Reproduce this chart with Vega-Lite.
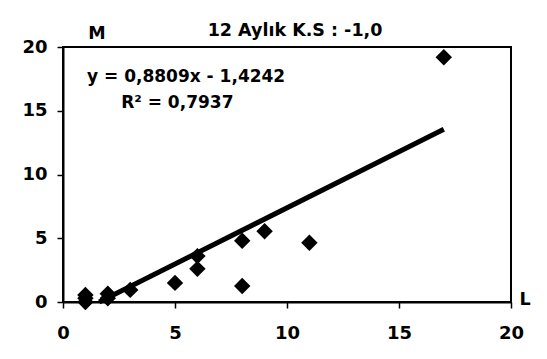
{
  "$schema": "https://vega.github.io/schema/vega-lite/v6.json",
  "autosize": {"type": "none"},
  "width": 448,
  "height": 255,
  "padding": {"left": 63, "top": 47, "right": 36, "bottom": 57},
  "background": "white",
  "title": {
    "text": "12 Aylık K.S : -1,0",
    "font": "DejaVu Sans",
    "fontSize": 17.5,
    "fontWeight": "bold",
    "color": "black",
    "anchor": "middle",
    "dx": 8,
    "dy": 35,
    "baseline": "alphabetic",
    "offset": 6
  },
  "datasets": {
    "points": [
      {"L": 1, "M": 0.0},
      {"L": 1, "M": 0.3},
      {"L": 1, "M": 0.55},
      {"L": 2, "M": 0.3},
      {"L": 2, "M": 0.65},
      {"L": 3, "M": 0.95},
      {"L": 5, "M": 1.5},
      {"L": 6, "M": 2.6},
      {"L": 6, "M": 3.6},
      {"L": 8, "M": 4.8},
      {"L": 8, "M": 1.25},
      {"L": 9, "M": 5.55},
      {"L": 11, "M": 4.65},
      {"L": 17, "M": 19.2}
    ],
    "trend": [
      {"L": 1.617, "M": 0},
      {"L": 17, "M": 13.551}
    ],
    "labels": [
      {"L": 1.07, "M": 17.25, "text": "y = 0,8809x - 1,4242"},
      {"L": 2.6, "M": 15.2, "text": "R² = 0,7937"}
    ]
  },
  "config": {
    "view": {"stroke": "black", "strokeWidth": 2},
    "axis": {
      "grid": false,
      "labelFlush": false,
      "labelFont": "DejaVu Sans",
      "labelFontWeight": "bold",
      "labelFontSize": 18,
      "labelColor": "black",
      "domainColor": "black",
      "domainWidth": 2,
      "tickColor": "black",
      "tickWidth": 1.5,
      "tickSize": 6,
      "titleFont": "DejaVu Sans",
      "titleFontWeight": "bold",
      "titleFontSize": 17.5,
      "titleColor": "black"
    }
  },
  "encoding": {
    "x": {
      "field": "L",
      "type": "quantitative",
      "scale": {"domain": [0, 20], "nice": false},
      "axis": {
        "values": [0, 5, 10, 15, 20],
        "labelPadding": 16,
        "title": "L",
        "titleX": 456,
        "titleY": 2,
        "titleAlign": "left",
        "titleBaseline": "alphabetic",
        "titleAnchor": null
      }
    },
    "y": {
      "field": "M",
      "type": "quantitative",
      "scale": {"domain": [0, 20], "nice": false},
      "axis": {
        "values": [0, 5, 10, 15, 20],
        "labelPadding": 10,
        "title": "M",
        "titleAngle": 0,
        "titleX": 33.5,
        "titleY": -9,
        "titleAlign": "center",
        "titleBaseline": "alphabetic"
      }
    }
  },
  "layer": [
    {
      "data": {"name": "trend"},
      "mark": {"type": "line", "color": "black", "strokeWidth": 5, "strokeCap": "butt"}
    },
    {
      "data": {"name": "points"},
      "mark": {"type": "point", "shape": "diamond", "filled": true, "color": "black", "opacity": 1, "size": 270}
    },
    {
      "data": {"name": "labels"},
      "mark": {"type": "text", "align": "left", "baseline": "alphabetic", "font": "DejaVu Sans", "fontWeight": "bold", "fontSize": 17, "color": "black"},
      "encoding": {"text": {"field": "text"}}
    }
  ]
}
